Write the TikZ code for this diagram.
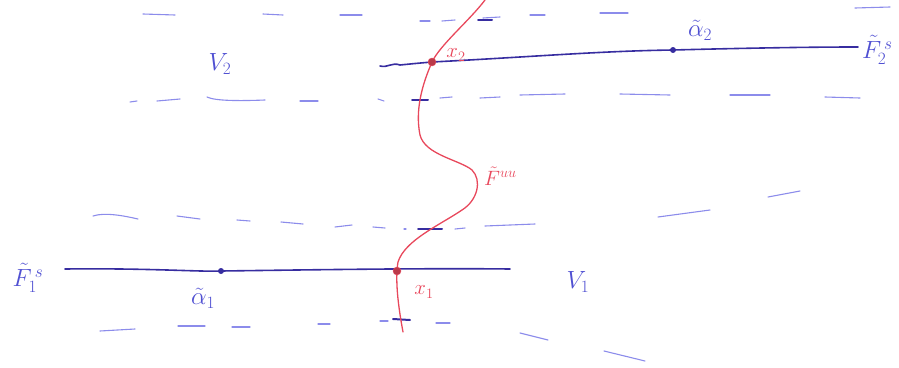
\documentclass[tikz,border=0pt]{standalone}
\usetikzlibrary{calc}
\definecolor{ink}{RGB}{55,45,160}
\definecolor{lightink}{RGB}{140,140,235}
\definecolor{txtink}{RGB}{80,80,210}
\definecolor{redink}{RGB}{232,72,92}
\tikzset{
  leaf/.style={ink, line width=1.6pt, line cap=round},
  dashpiece/.style={lightink, line width=1.1pt, line cap=round},
  tickmark/.style={ink, line width=2pt, line cap=round},
  unstable/.style={redink, line width=1.3pt, line cap=round},
  dotpt/.style={circle, fill=ink, inner sep=0pt, minimum size=6pt},
  reddot/.style={circle, fill=redink!80!black, draw=redink, inner sep=0pt, minimum size=8pt},
  bluelabel/.style={txtink, inner sep=0pt, font=\fontsize{24}{28}\selectfont},
  redlabel/.style={redink, inner sep=0pt, font=\fontsize{20}{24}\selectfont}
}
\begin{document}
\begin{tikzpicture}[x=1pt,y=-1pt]
\useasboundingbox (0,0) rectangle (899,367);
% upper band, top dashes
\foreach \a/\b/\c/\d in {143/14/175/15, 263/14/283/15, 340/15/362/15, 420/21/430/21, 442/21/455/20, 483/18/500/17, 530/15/545/15, 600/13/628/13, 855/8/890/7}
  \draw[dashpiece] (\a,\b) -- (\c,\d);
% upper band, bottom dashes
\foreach \a/\b/\c/\d in {130/102/137/101, 157/101/180/99, 300/101/318/101, 378/99/384/101, 440/98/452/97, 480/98/500/97, 520/95/565/94, 620/94/670/95, 730/95/770/95, 825/97/860/98}
  \draw[dashpiece] (\a,\b) -- (\c,\d);
\draw[dashpiece] (207,97) .. controls (215,101) and (240,101) .. (265,100);
% lower band, top dashes
\draw[dashpiece] (93,216) .. controls (105,212) and (125,216) .. (138,219);
\foreach \a/\b/\c/\d in {177/216/200/219, 237/220/250/221, 281/222/303/224, 335/227/352/225, 373/227/385/228, 404/229/406/229, 455/229/465/228, 485/226/535/224, 658/217/710/210, 768/197/800/191}
  \draw[dashpiece] (\a,\b) -- (\c,\d);
% lower band, bottom dashes
\foreach \a/\b/\c/\d in {100/331/135/329, 178/326/205/326, 232/327/250/327, 318/324/330/324, 380/321/388/321, 436/323/450/323, 520/333/548/340, 604/351/645/361}
  \draw[dashpiece] (\a,\b) -- (\c,\d);
% strong stable leaves
\coordinate (F2w) at (380,66);
\coordinate (F2e) at (858,47);
\draw[leaf] (F2w) .. controls (388,68) and (392,62) .. (400,65)
  .. controls (410,64) and (420,63) .. (432,62)
  .. controls (530,57) and (600,51) .. (673,50)
  .. controls (750,48) and (810,47) .. (F2e);
\coordinate (F1w) at (65,269);
\coordinate (F1e) at (510,269);
\draw[leaf] (F1w) .. controls (150,268) and (200,272) .. (221,271)
  .. controls (300,270) and (420,268) .. (F1e);
% ticks
\draw[tickmark] (478,20) -- (492,20);
\draw[tickmark] (412,100) -- (428,100);
\draw[tickmark] (418,229) -- (442,229);
\draw[tickmark] (393,319) -- (410,320);
% strong unstable curve
\draw[unstable] (485,0) .. controls (470,20) and (440,45) .. (432,62)
  .. controls (422,85) and (415,110) .. (420,135)
  .. controls (425,155) and (460,160) .. (472,170)
  .. controls (482,180) and (478,200) .. (462,210)
  .. controls (440,225) and (405,240) .. (398,262)
  .. controls (395,280) and (398,305) .. (403,332);
% points
\node[reddot] (x2) at (432,62) {};
\node[reddot] (x1) at (397,271) {};
\node[dotpt] (a2) at (673,50) {};
\node[dotpt] (a1) at (221,271) {};
% labels
\node[bluelabel] (V2) at (220,64) {$V_2$};
\node[bluelabel] (V1) at (578,282) {$V_1$};
\node[bluelabel] (la2) at (700,30) {$\tilde\alpha_2$};
\node[bluelabel] (la1) at (203,298) {$\tilde\alpha_1$};
\node[bluelabel,anchor=west] (lF2) at (862,50) {$\tilde F_2^{\,s}$};
\node[bluelabel] (lF1) at (28,278) {$\tilde F_1^{\,s}$};
\node[redlabel] (lx2) at (456,55) {$x_2$};
\node[redlabel] (lx1) at (424,292) {$x_1$};
\node[redlabel,anchor=west] (lFuu) at (484,176) {$\tilde F^{uu}$};
\end{tikzpicture}
\end{document}
